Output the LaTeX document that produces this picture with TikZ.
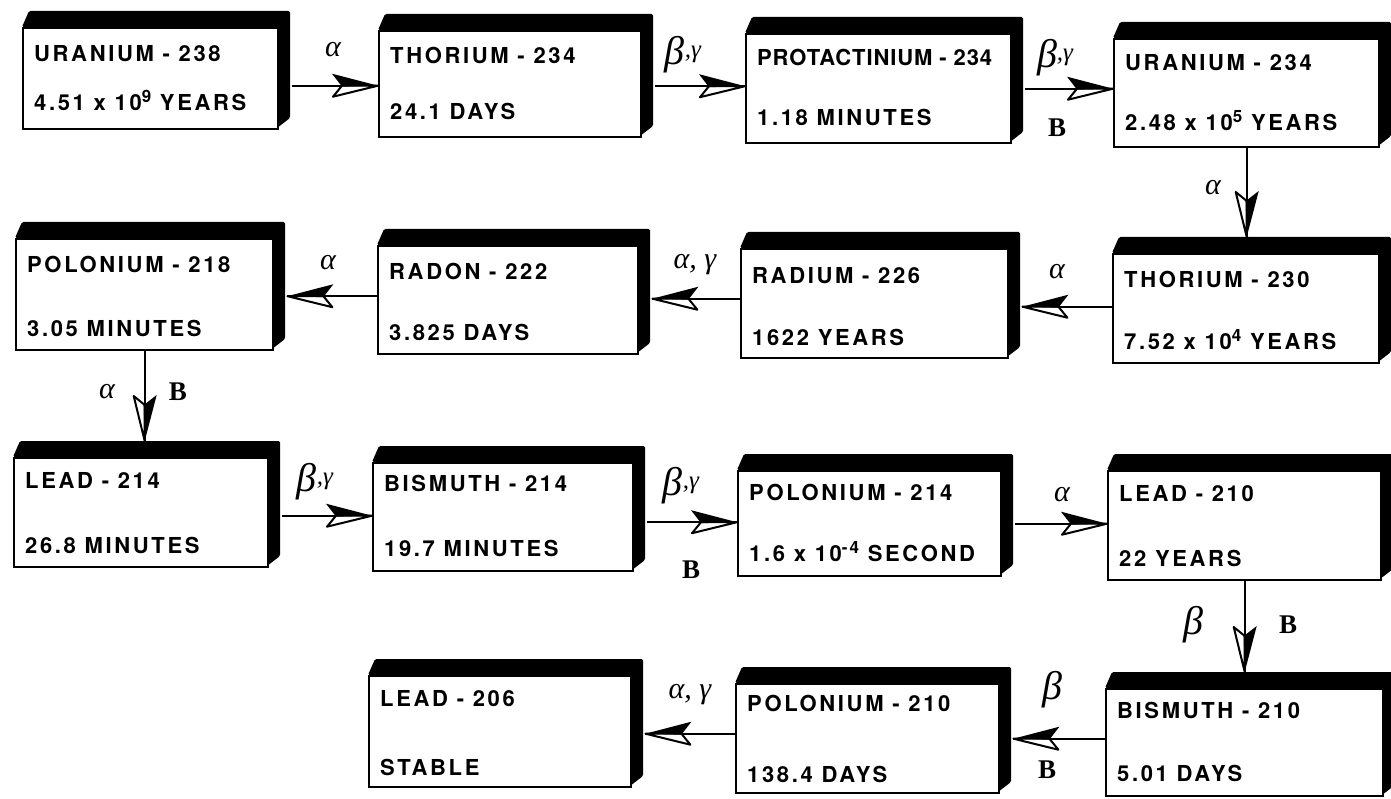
\documentclass[tikz,border=0pt]{standalone}
\usepackage{fontspec}
\newfontfamily\boxfont{TeX Gyre Heros}[LetterSpace=12]
\newfontfamily\tightfont{TeX Gyre Heros}[LetterSpace=4]
\newfontfamily\grk{Liberation Serif}
\usetikzlibrary{calc}
\newcommand\expo[1]{\raisebox{8pt}{\fontsize{17}{17}\selectfont #1}}
\newcommand\bigbeta{{\grk\itshape\fontsize{40}{40}\selectfont β}}
\newcommand\bgam{\bigbeta\raisebox{7pt}{\grk\itshape\fontsize{25}{25}\selectfont ,γ}}
\tikzset{
  front/.style={draw=black, line width=2.4pt, fill=white, inner sep=0pt, anchor=north west},
  band/.style={fill=black, rounded corners=1.5pt},
  boxtxt/.style={anchor=base west, inner sep=0pt, font=\boxfont\bfseries\fontsize{22}{22}\selectfont},
  conn/.style={line width=2pt},
  lab/.style={inner sep=0pt, font=\grk\itshape\fontsize{30}{30}\selectfont},
  labB/.style={inner sep=0pt, font=\grk\bfseries\fontsize{27}{27}\selectfont},
  headR/.pic={
    \filldraw[fill=white, draw=black, line width=2pt, line join=round] (0,0) -- (-36,0) -- (-45,11) -- cycle;
    \fill[black] (0,0) -- (-46,-12) -- (-39,-3) -- (-36,1) -- cycle;
  },
  headL/.pic={
    \filldraw[fill=white, draw=black, line width=2pt, line join=round] (0,0) -- (36,0) -- (45,11) -- cycle;
    \fill[black] (0,0) -- (46,-12) -- (39,-3) -- (36,1) -- cycle;
  },
  headD/.pic={
    \filldraw[fill=white, draw=black, line width=2pt, line join=round] (0,0) -- (0,-36) -- (-11,-45) -- cycle;
    \fill[black] (0,0) -- (12,-46) -- (3,-39) -- (-1,-36) -- cycle;
  }
}
% name, L, T, R, B, line1, line2, baseline offset of line1 (from T), of line2 (from B)
\newcommand\decaybox[9]{%
  \fill[band] (#2,#3) -- (#2+7,#3-16) -- (#4+13,#3-16) -- (#4+13,#5-10) -- (#4,#5) -- (#4,#3) -- cycle;
  \node[front, minimum width=#4-#2, minimum height=#5-#3] (#1) at (#2,#3) {};
  \node[boxtxt] (#1a) at (#2+12,#3+#8) {#6};
  \node[boxtxt] (#1b) at (#2+12,#5-#9) {#7};
}
% rightward: from, to, dy, name
\newcommand\arrR[4]{%
  \coordinate (#4s) at ($(#1.east)+(13,#3)$);
  \coordinate (#4e) at (#4s -| #2.west);
  \draw[conn] (#4s) -- (#4e);
  \pic at (#4e) {headR};
}
% leftward: from, to, dy, name
\newcommand\arrL[4]{%
  \coordinate (#4s) at ($(#1.west)+(0,#3)$);
  \coordinate (#4t) at (#4s -| #2.east);
  \coordinate (#4e) at ($(#4t)+(13,0)$);
  \draw[conn] (#4s) -- (#4e);
  \pic at (#4e) {headL};
}
% downward: from, to, name
\newcommand\arrD[3]{%
  \coordinate (#3s) at (#1.south);
  \coordinate (#3t) at (#3s |- #2.north);
  \coordinate (#3e) at ($(#3t)+(0,-16)$);
  \draw[conn] (#3s) -- (#3e);
  \pic at (#3e) {headD};
}
\begin{document}
\begin{tikzpicture}[x=1pt,y=-1pt]
\useasboundingbox[fill=white] (0,0) rectangle (1391,799);
% row 1
\decaybox{uA}{22}{27}{277}{128}{URANIUM - 238}{4.51 x 10\expo{9} YEARS}{35}{17}
\decaybox{thA}{378}{30}{640}{136}{THORIUM - 234}{24.1 DAYS}{34}{16}
\decaybox{pa}{745}{33}{1010}{142}{{\tightfont PROTACTINIUM - 234}}{1.18 MINUTES}{33}{16}
\decaybox{uB}{1113}{38}{1378}{146}{URANIUM - 234}{2.48 x 10\expo{5} YEARS}{33}{15}
% row 2
\decaybox{poA}{15}{238}{272}{349}{POLONIUM - 218}{3.05 MINUTES}{35}{13}
\decaybox{rn}{377}{245}{637}{353}{RADON - 222}{3.825 DAYS}{35}{12}
\decaybox{ra}{740}{248}{1007}{357}{RADIUM - 226}{1622 YEARS}{36}{12}
\decaybox{thB}{1112}{253}{1378}{362}{THORIUM - 230}{7.52 x 10\expo{4} YEARS}{35}{13}
% row 3
\decaybox{pbA}{13}{457}{267}{566}{LEAD - 214}{26.8 MINUTES}{31}{13}
\decaybox{biA}{372}{462}{632}{570}{BISMUTH - 214}{19.7 MINUTES}{29}{14}
\decaybox{poB}{737}{470}{1000}{575}{POLONIUM - 214}{1.6 x 10\expo{-4} SECOND}{30}{14}
\decaybox{pbB}{1107}{470}{1380}{579}{LEAD - 210}{22 YEARS}{31}{13}
% row 4
\decaybox{pbC}{368}{675}{630}{786}{LEAD - 206}{STABLE}{31}{11}
\decaybox{poC}{735}{683}{998}{792}{POLONIUM - 210}{138.4 DAYS}{28}{10}
\decaybox{biB}{1105}{688}{1382}{795}{BISMUTH - 210}{5.01 DAYS}{30}{14}
% connectors
\arrR{uA}{thA}{7}{c1}
\arrR{thA}{pa}{2}{c2}
\arrR{pa}{uB}{0}{c3}
\arrD{uB}{thB}{c4}
\arrL{thB}{ra}{-2}{c5}
\arrL{ra}{rn}{-5}{c6}
\arrL{rn}{poA}{-4}{c7}
\arrD{poA}{pbA}{c8}
\arrR{pbA}{biA}{3}{c9}
\arrR{biA}{poB}{5}{c10}
\arrR{poB}{pbB}{0}{c11}
\arrD{pbB}{biB}{c12}
\arrL{biB}{poC}{-4}{c13}
\arrL{poC}{pbC}{-5}{c14}
% labels
\node[lab] (l1) at (333,50) {α};
\node[lab] (l2) at (683,55) {\bgam};
\node[lab] (l3) at (1055,58) {\bgam};
\node[labB] (l3b) at (1057,128) {B};
\node[lab] (l4) at (1213,188) {α};
\node[lab] (l5) at (1057,272) {α};
\node[lab] (l6) at (695,265) {α, γ};
\node[lab] (l7) at (328,263) {α};
\node[lab] (l8) at (107,392) {α};
\node[labB] (l8b) at (178,392) {B};
\node[lab] (l9) at (315,482) {\bgam};
\node[lab] (l10) at (681,486) {\bgam};
\node[labB] (l10b) at (691,570) {B};
\node[lab] (l11) at (1062,495) {α};
\node[lab] (l12) at (1193,625) {\bigbeta};
\node[labB] (l12b) at (1288,625) {B};
\node[lab] (l13) at (1052,690) {\bigbeta};
\node[labB] (l13b) at (1047,770) {B};
\node[lab] (l14) at (690,695) {α, γ};
\end{tikzpicture}
\end{document}
